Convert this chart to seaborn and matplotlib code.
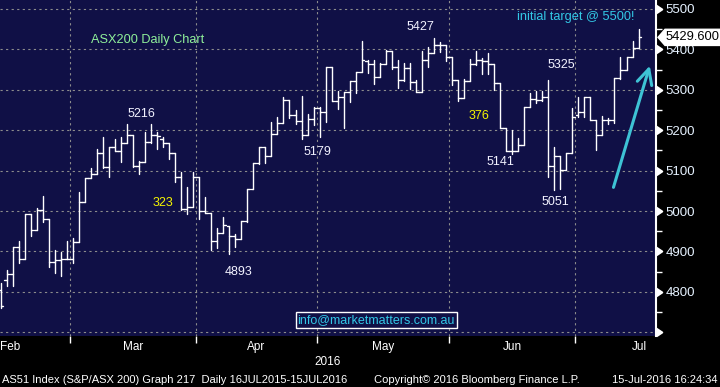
import numpy as np
import pandas as pd
import matplotlib
matplotlib.use("Agg")
import matplotlib.pyplot as plt
import matplotlib.transforms as mtransforms
from matplotlib.patches import Polygon
import seaborn as sns

# --- dados: ASX200 (AS51) diario, 12-fev-2016 a 15-jul-2016 ---
feriados = ['2016-03-25', '2016-03-28', '2016-04-25', '2016-06-13']
datas = pd.bdate_range('2016-02-12', '2016-07-15')
datas = datas[~datas.isin(pd.to_datetime(feriados))]

abertura = [4805, 4830, 4845, 4911, 4881, 4993, 4953, 5003, 4980, 4874,
            4879, 4881, 4881, 4923, 5022, 5082, 5092, 5144, 5109, 5158,
            5149, 5168, 5188, 5111, 5121, 5171, 5188, 5178, 5168, 5144,
            5084, 5005, 5010, 5084, 5000, 4995, 4926, 4946, 4963, 4938,
            4931, 4975, 5055, 5119, 5158, 5136, 5190, 5218, 5275, 5238,
            5223, 5188, 5228, 5255, 5245, 5356, 5272, 5282, 5295, 5322,
            5344, 5370, 5364, 5332, 5364, 5396, 5356, 5324, 5354, 5319,
            5295, 5374, 5391, 5411, 5411, 5381, 5324, 5280, 5322, 5364,
            5374, 5371, 5364, 5317, 5206, 5149, 5149, 5163, 5258, 5277,
            5275, 5282, 5111, 5136, 5102, 5144, 5238, 5245, 5282, 5225,
            5188, 5225, 5225, 5329, 5349, 5381, 5403]
maxima = [4822, 4854, 4911, 4926, 4993, 4993, 5008, 5037, 4980, 4904,
          4899, 4926, 4933, 5047, 5082, 5106, 5153, 5183, 5158, 5178,
          5183, 5215, 5188, 5124, 5195, 5216, 5195, 5183, 5168, 5144,
          5097, 5060, 5097, 5084, 5035, 4995, 4958, 4985, 4963, 4943,
          4975, 5055, 5119, 5158, 5158, 5220, 5233, 5282, 5275, 5250,
          5285, 5240, 5258, 5258, 5356, 5356, 5297, 5295, 5322, 5344,
          5420, 5374, 5374, 5366, 5398, 5396, 5374, 5366, 5366, 5324,
          5396, 5406, 5427, 5418, 5411, 5381, 5324, 5327, 5376, 5396,
          5379, 5391, 5364, 5317, 5206, 5200, 5181, 5258, 5292, 5297,
          5297, 5325, 5158, 5136, 5144, 5255, 5282, 5282, 5282, 5225,
          5235, 5230, 5329, 5381, 5381, 5421, 5450]
minimas = [4760, 4815, 4815, 4871, 4881, 4938, 4953, 4973, 4861, 4847,
           4839, 4881, 4871, 4923, 5022, 5082, 5092, 5106, 5084, 5149,
           5121, 5168, 5109, 5092, 5121, 5168, 5153, 5158, 5129, 5072,
           5003, 4993, 5010, 4980, 4995, 4903, 4908, 4946, 4893, 4911,
           4931, 4973, 5055, 5116, 5119, 5136, 5190, 5218, 5230, 5215,
           5179, 5188, 5213, 5183, 5220, 5272, 5253, 5206, 5270, 5292,
           5344, 5342, 5314, 5332, 5364, 5351, 5304, 5322, 5302, 5295,
           5295, 5356, 5391, 5393, 5371, 5312, 5272, 5280, 5322, 5361,
           5339, 5339, 5300, 5206, 5149, 5141, 5149, 5163, 5258, 5267,
           5272, 5084, 5051, 5055, 5102, 5144, 5233, 5233, 5225, 5151,
           5188, 5215, 5218, 5327, 5349, 5381, 5403]
fechamento = [4765, 4845, 4911, 4881, 4993, 4953, 5003, 4980, 4874, 4879,
              4881, 4881, 4923, 5022, 5082, 5092, 5144, 5109, 5158, 5149,
              5168, 5188, 5111, 5121, 5171, 5188, 5186, 5168, 5144, 5084,
              5005, 5010, 5084, 5000, 4995, 4926, 4946, 4965, 4938, 4931,
              4975, 5055, 5119, 5158, 5136, 5190, 5218, 5275, 5238, 5223,
              5188, 5228, 5255, 5245, 5356, 5272, 5282, 5295, 5322, 5344,
              5374, 5364, 5332, 5364, 5396, 5356, 5324, 5354, 5319, 5295,
              5374, 5391, 5411, 5411, 5381, 5324, 5280, 5322, 5364, 5374,
              5371, 5364, 5317, 5206, 5149, 5149, 5163, 5258, 5277, 5275,
              5282, 5111, 5136, 5102, 5144, 5233, 5245, 5282, 5225, 5188,
              5225, 5225, 5329, 5349, 5381, 5403, 5429.6]

niveis_y = [4700, 4800, 4900, 5000, 5100, 5200, 5300, 5400, 5500]
meses = ['Feb', 'Mar', 'Apr', 'May', 'Jun', 'Jul']

# rotulos de topos/fundos e das pernas
rotulos_preco = [('5216', 23.4, 5240), ('4893', 39.6, 4849), ('5179', 52.7, 5146),
                 ('5427', 69.8, 5455), ('5141', 83.0, 5121), ('5325', 93.1, 5361),
                 ('5051', 92.1, 5022)]
rotulos_perna = [('323', 27.0, 5020), ('376', 79.5, 5235)]

# --- cores ---
fundo = '#101046'
branco = '#f2f2ff'
ciano = '#33c8e6'

sns.set_theme(style='dark', rc={'axes.facecolor': fundo, 'figure.facecolor': 'black'})
plt.rcParams['font.family'] = ['Liberation Sans', 'DejaVu Sans']

n = len(fechamento)
idx = np.arange(n)

# segmentos OHLC em formato longo para o seaborn
seg = []
for i in idx:
    seg += [(3 * i, i, maxima[i]), (3 * i, i, minimas[i]),
            (3 * i + 1, i - 0.45, abertura[i]), (3 * i + 1, i, abertura[i]),
            (3 * i + 2, i, fechamento[i]), (3 * i + 2, i + 0.45, fechamento[i])]
seg = pd.DataFrame(seg, columns=['seg', 'x', 'y'])

fig = plt.figure(figsize=(7.2, 3.87), dpi=100)
ax = fig.add_axes([0, 1 - 336 / 387, 656 / 720, 336 / 387])

sns.lineplot(data=seg, x='x', y='y', units='seg', estimator=None, sort=False,
             color='white', lw=1.0, legend=False, ax=ax)

ax.set_xlim(-0.1, 108.9)
ax.set_ylim(4691, 5522)
ax.set_xlabel('')
ax.set_ylabel('')

# limites dos meses (primeiro pregao de cada mes)
mes_num = datas.month.values
bordas = [i - 0.5 for i in range(1, n) if mes_num[i] != mes_num[i - 1]]
ax.set_xticks(bordas)
ax.set_xticklabels([])
ax.tick_params(axis='x', direction='out', length=5, width=1, color='white', bottom=True)

ax.yaxis.tick_right()
ax.set_yticks(niveis_y)
ax.set_yticklabels([''] + [str(v) for v in niveis_y[1:]])
ax.set_yticks(np.arange(4750, 5550, 100), minor=True)
ax.tick_params(axis='y', which='major', length=0, pad=7, labelsize=9.5, labelcolor='#e6f2ff')
ax.tick_params(axis='y', which='minor', right=True, length=4, width=1, color='white')

# triangulos dos ticks principais
trans_y = mtransforms.blended_transform_factory(ax.transAxes, ax.transData)
ax.scatter([1.0] * len(niveis_y), niveis_y, marker=9, s=30, color='white',
           transform=trans_y, clip_on=False, zorder=5)

ax.grid(True, which='major', color='#8c8c8c', linestyle=(0, (2, 3)), lw=0.8)
for s in ['top', 'left', 'bottom']:
    ax.spines[s].set_visible(False)
ax.spines['right'].set_color('white')
ax.spines['right'].set_linewidth(1.5)

# rotulos dos meses
trans_x = mtransforms.blended_transform_factory(ax.transData, ax.transAxes)
centros = [1.5] + [(bordas[k] + bordas[k + 1]) / 2 for k in range(len(bordas) - 1)] + [bordas[-1] + 10.6]
for nome, cx in zip(meses, centros):
    ax.text(cx, -0.033, nome, transform=trans_x, ha='center', va='center',
            color='white', fontsize=8.5)
ax.text(54.4, -0.077, '2016', transform=trans_x, ha='center',
        va='center', color='white', fontsize=8.5)

# anotacoes
for txt, x, y in rotulos_preco:
    ax.text(x, y, txt, ha='center', va='center', color=branco, fontsize=9)
for txt, x, y in rotulos_perna:
    ax.text(x, y, txt, ha='center', va='center', color='#f5f500', fontsize=9)

ax.text(24.5, 5423, 'ASX200 Daily Chart', ha='center', va='center', color='#8ff09a', fontsize=9.2)
ax.text(95.6, 5480, 'initial target @ 5500!', ha='center', va='center', color=ciano, fontsize=9.2)
ax.text(62.4, 4730, 'info@marketmatters.com.au', ha='center', va='center', color=ciano,
        fontsize=9, bbox=dict(boxstyle='square,pad=0.15', fc=fundo, ec='white', lw=1))

ax.annotate('', xy=(108.0, 5366), xytext=(101.7, 5052),
            arrowprops=dict(arrowstyle='->,head_length=0.9,head_width=0.45',
                            color='#3ec3d5', lw=2.2))

# etiqueta do ultimo preco
trans_f = mtransforms.blended_transform_factory(fig.transFigure, ax.transData)
ultimo = fechamento[-1]
etiqueta = Polygon([(658 / 720, ultimo), (665 / 720, ultimo + 20), (1.0, ultimo + 20),
                    (1.0, ultimo - 20), (665 / 720, ultimo - 20)], closed=True,
                   fc='white', ec='white', transform=trans_f, clip_on=False, zorder=6)
ax.add_patch(etiqueta)
ax.text(666 / 720, ultimo, f'{ultimo:.3f}', transform=trans_f, ha='left', va='center',
        color='black', fontsize=9.3, zorder=7, clip_on=False)

# rodape
rodape = dict(color='white', fontsize=8, va='center', family=['Liberation Sans Narrow', 'Liberation Sans'])
fig.text(2 / 720, 1 - 380 / 387, 'AS51 Index (S&P/ASX 200) Graph 217  Daily 16JUL2015-15JUL2016', ha='left', **rodape)
fig.text(374 / 720, 1 - 380 / 387, 'Copyright\u00a9 2016 Bloomberg Finance L.P.', ha='left', **rodape)
fig.text(718 / 720, 1 - 380 / 387, '15-Jul-2016 16:24:34', ha='right', **rodape)

fig.savefig('out.png', dpi=100, facecolor='black')
